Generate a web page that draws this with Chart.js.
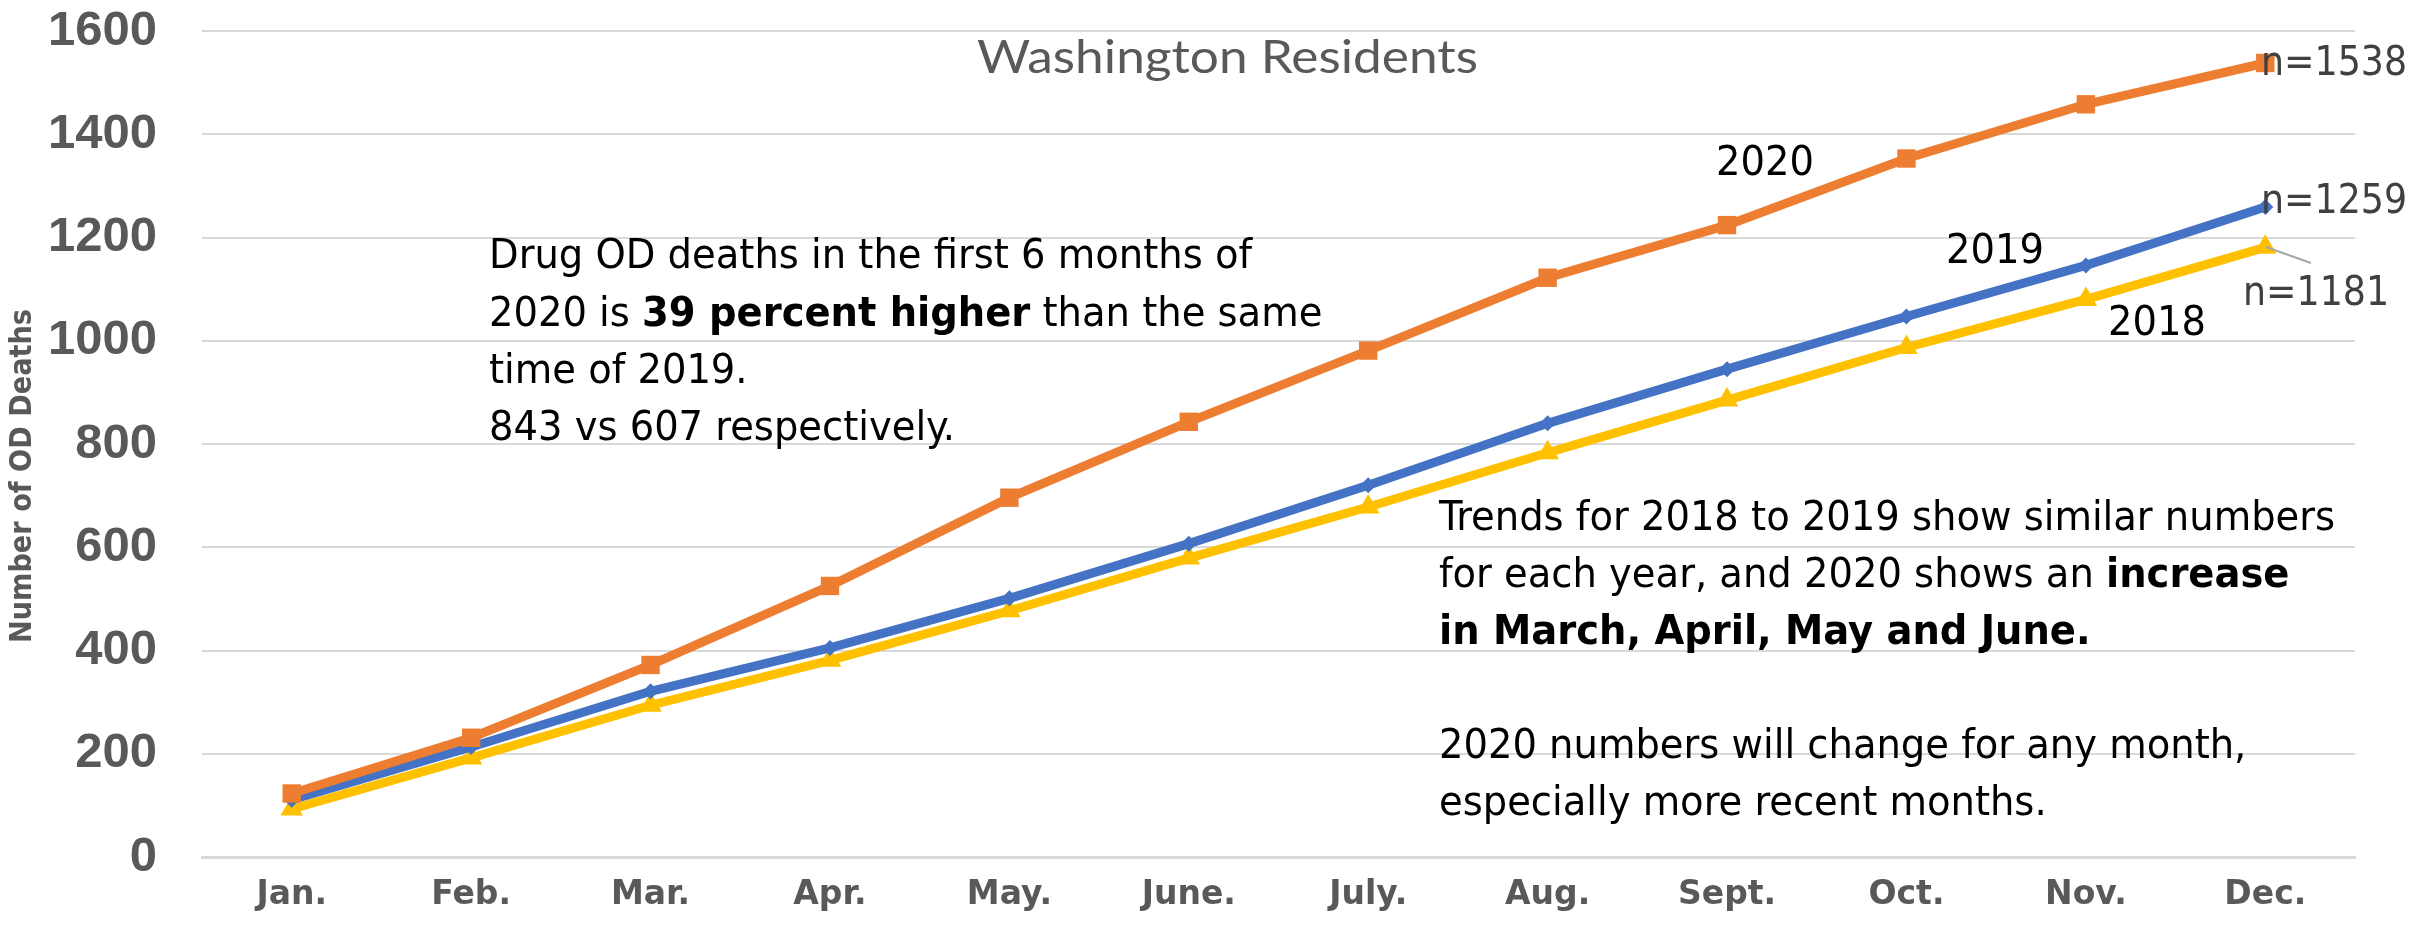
<!DOCTYPE html>
<html>
<head>
<meta charset="utf-8">
<script src="https://cdn.jsdelivr.net/npm/chart.js@4/dist/chart.umd.min.js"></script>
<style>
  html, body { margin: 0; padding: 0; background: #fff; }
  #wrap { width: 2430px; height: 929px; }
</style>
</head>
<body>
<div id="wrap"><canvas id="chart" width="2430" height="929"></canvas></div>
<script>
// --- data ---
const months = ['Jan.', 'Feb.', 'Mar.', 'Apr.', 'May.', 'June.', 'July.', 'Aug.', 'Sept.', 'Oct.', 'Nov.', 'Dec.']
const deaths2018 = [93, 192, 294, 381, 477, 579, 678, 783, 885, 987, 1080, 1181]
const deaths2019 = [111, 213, 321, 405, 501, 607, 720, 840, 945, 1047, 1146, 1259]
const deaths2020 = [123, 231, 372, 525, 696, 843, 981, 1122, 1224, 1353, 1458, 1538]
const yMin = 0
const yMax = 1600
const yStep = 200

const ORANGE = '#ED7D31'
const BLUE = '#4472C4'
const YELLOW = '#FFC000'
const GREY = '#595959'

// draws a run of text pieces (some bold), squeezed/stretched by sx to mimic the slide font
function drawRuns(ctx, runs, x, y, size, family, sx, color) {
  ctx.save()
  ctx.translate(x, y)
  ctx.scale(sx, 1)
  ctx.fillStyle = color
  ctx.textBaseline = 'middle'
  ctx.textAlign = 'left'
  let cx = 0
  for (const r of runs) {
    ctx.font = (r.bold ? 'bold ' : '') + size + 'px ' + family
    ctx.fillText(r.t, cx, 0)
    cx += ctx.measureText(r.t).width
  }
  ctx.restore()
}

function runsWidth(ctx, runs, size, family) {
  let w = 0
  for (const r of runs) {
    ctx.font = (r.bold ? 'bold ' : '') + size + 'px ' + family
    w += ctx.measureText(r.t).width
  }
  return w
}

const TXT = '"Liberation Sans Narrow", "DejaVu Sans Condensed", "Liberation Sans", sans-serif'
const GEO = 'Lato, "Open Sans", sans-serif'

const leftNote = [
  [{ t: 'Drug OD deaths in the first 6 months of' }],
  [{ t: '2020 is ' }, { t: '39 percent higher', bold: true }, { t: ' than the same' }],
  [{ t: 'time of 2019.' }],
  [{ t: '843 vs 607 respectively.' }],
]
const rightNote = [
  [{ t: 'Trends for 2018 to 2019 show similar numbers' }],
  [{ t: 'for each year, and 2020 shows an ' }, { t: 'increase', bold: true }],
  [{ t: 'in March, April, May and June.', bold: true }],
  [],
  [{ t: '2020 numbers will change for any month,' }],
  [{ t: 'especially more recent months.' }],
]

const notesPlugin = {
  id: 'notes',
  afterDraw(chart) {
    const ctx = chart.ctx
    const size = 40

    // title
    const tw = runsWidth(ctx, [{ t: 'Washington Residents' }], 46, GEO)
    drawRuns(ctx, [{ t: 'Washington Residents' }], 977, 58, 46, GEO, 501 / tw, GREY)

    // y axis title, rotated
    const yt = 'Number of OD Deaths'
    ctx.save()
    ctx.font = 'bold 31px "DejaVu Sans", sans-serif'
    const yw = ctx.measureText(yt).width
    ctx.translate(23, 476)
    ctx.rotate(-Math.PI / 2)
    ctx.scale(334 / yw, 1)
    ctx.fillStyle = GREY
    ctx.textAlign = 'center'
    ctx.textBaseline = 'middle'
    ctx.fillText(yt, 0, 0)
    ctx.restore()

    // notes, same face and size for both blocks
    const sx = 763 / runsWidth(ctx, leftNote[0], size, TXT)
    leftNote.forEach((line, i) => drawRuns(ctx, line, 489, 258 + i * 57.3, size, TXT, sx, '#000'))
    rightNote.forEach((line, i) => drawRuns(ctx, line, 1439, 520 + i * 57, size, TXT, sx, '#000'))

    // series names
    drawRuns(ctx, [{ t: '2020' }], 1716, 165, size, TXT, sx, '#000')
    drawRuns(ctx, [{ t: '2019' }], 1946, 253, size, TXT, sx, '#000')
    drawRuns(ctx, [{ t: '2018' }], 2108, 325, size, TXT, sx, '#000')

    // end-of-line totals
    const nw = runsWidth(ctx, [{ t: 'n=1538' }], 40, TXT)
    const sxN = 146 / nw
    drawRuns(ctx, [{ t: 'n=' + deaths2020[11] }], 2261, 65, 40, TXT, sxN, '#404040')
    drawRuns(ctx, [{ t: 'n=' + deaths2019[11] }], 2261, 203, 40, TXT, sxN, '#404040')
    drawRuns(ctx, [{ t: 'n=' + deaths2018[11] }], 2243, 295, 40, TXT, sxN, '#404040')

    // leader line for n=1181
    ctx.save()
    ctx.strokeStyle = '#A6A6A6'
    ctx.lineWidth = 2
    ctx.beginPath()
    ctx.moveTo(2266, 247)
    ctx.lineTo(2311, 263)
    ctx.stroke()
    ctx.restore()
  }
}

const ctx = document.getElementById('chart')

new Chart(ctx, {
  type: 'line',
  data: {
    labels: months,
    datasets: [
      {
        label: '2020',
        data: deaths2020,
        borderColor: ORANGE,
        backgroundColor: ORANGE,
        borderWidth: 9,
        pointStyle: 'rect',
        pointRadius: 13,
        pointBorderWidth: 0,
        order: 0,
      },
      {
        label: '2019',
        data: deaths2019,
        borderColor: BLUE,
        backgroundColor: BLUE,
        borderWidth: 9,
        pointStyle: 'rectRot',
        pointRadius: 8,
        pointBorderWidth: 0,
        order: 1,
      },
      {
        label: '2018',
        data: deaths2018,
        borderColor: YELLOW,
        backgroundColor: YELLOW,
        borderWidth: 9,
        pointStyle: 'triangle',
        pointRadius: 13,
        pointBorderWidth: 0,
        order: 2,
      },
    ],
  },
  options: {
    responsive: false,
    animation: false,
    layout: { padding: { top: 31, right: 75, bottom: 0, left: 0 } },
    plugins: {
      legend: { display: false },
      tooltip: { enabled: false },
    },
    scales: {
      x: {
        offset: true,
        grid: { display: false, drawTicks: false },
        border: { display: true, color: '#D9D9D9', width: 3 },
        ticks: {
          color: GREY,
          padding: 19,
          font: { family: '"DejaVu Sans", sans-serif', size: 33, weight: 'bold' },
        },
        afterFit(s) { s.height = 72 },
      },
      y: {
        min: yMin,
        max: yMax,
        grid: { color: '#D9D9D9', lineWidth: 2, drawTicks: false },
        border: { display: false },
        ticks: {
          stepSize: yStep,
          color: GREY,
          padding: 45,
          font: { family: '"Liberation Sans", Arial, sans-serif', size: 49, weight: 'bold' },
          callback: v => String(v),
        },
        afterFit(s) {
          s.width = 202
          s.paddingTop = 0
          s.paddingBottom = 0
        },
      },
    },
  },
  plugins: [notesPlugin],
})
</script>
</body>
</html>
